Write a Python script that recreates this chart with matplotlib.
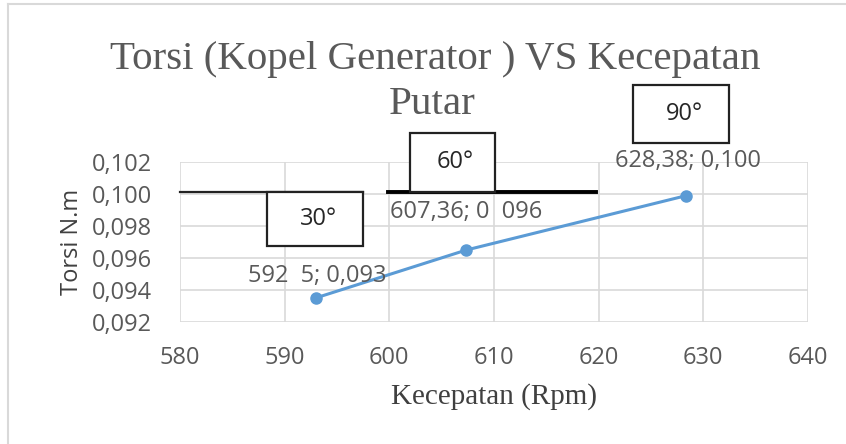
import matplotlib
matplotlib.use("Agg")
import matplotlib.pyplot as plt
from matplotlib.patches import Rectangle
from matplotlib.lines import Line2D

# data
rpm = [592.95, 607.36, 628.38]
torsi = [0.0935, 0.0965, 0.0999]
point_labels = ["592  5; 0,093", "607,36; 0  096", "628,38; 0,100"]
label_offsets = [(2, 22), (0, 38), (2, 35)]   # pixels above each point
x_ticks = [580, 590, 600, 610, 620, 630, 640]
y_ticks = [0.092, 0.094, 0.096, 0.098, 0.100, 0.102]
y_tick_labels = ["0,092", "0,094", "0,096", "0,098", "0,100", "0,102"]
angle_labels = ["30°", "60°", "90°"]

W, H = 846, 444
GREY = "#595959"
BLUE = "#5B9BD5"
SANS = "Open Sans"
SERIF = "Liberation Serif"
FS = 17

fig = plt.figure(figsize=(W / 100, H / 100), dpi=100)
fig.patch.set_facecolor("white")


def fx(px):
    return px / W


def fy(py):
    return 1 - py / H


# chart frame (only the top and left edges show in the crop)
fig.add_artist(Line2D([fx(8), 1], [fy(4), fy(4)], color="#d9d9d9", lw=1.5))
fig.add_artist(Line2D([fx(8), fx(8)], [fy(4), 0], color="#d9d9d9", lw=1.5))

ax = fig.add_axes([fx(180), fy(322), fx(808) - fx(180), fy(162) - fy(322)])
ax.set_xlim(580, 640)
ax.set_ylim(0.092, 0.102)
ax.set_xticks(x_ticks)
ax.set_xticklabels([str(t) for t in x_ticks])
ax.set_yticks(y_ticks)
ax.set_yticklabels(y_tick_labels)
ax.grid(True, color="#d9d9d9", lw=1.2)
ax.set_axisbelow(True)
for s in ax.spines.values():
    s.set_visible(False)
ax.tick_params(length=0, labelsize=FS, labelcolor=GREY)
ax.tick_params(axis="x", pad=17)
ax.tick_params(axis="y", pad=20)
for lab in ax.get_xticklabels() + ax.get_yticklabels():
    lab.set_family(SANS)

ax.plot(rpm, torsi, color=BLUE, lw=2.2, marker="o", markersize=8,
        clip_on=False, zorder=3)

for x, y, txt, (dx, dy) in zip(rpm, torsi, point_labels, label_offsets):
    ax.annotate(txt, (x, y), xytext=(dx, dy), textcoords="offset pixels",
                ha="center", va="center", fontsize=FS, family=SANS,
                color=GREY, annotation_clip=False, zorder=4)

ax.set_ylabel("Torsi N.m", fontsize=FS, family=SANS, color="#404040",
              labelpad=6)
ax.set_xlabel("Kecepatan (Rpm)", fontsize=21, family=SERIF, color="#404040",
              labelpad=10)

fig.text(fx(435), fy(60), "Torsi (Kopel Generator ) VS Kecepatan",
         ha="center", va="center", fontsize=29.5, family=SERIF, color=GREY)
fig.text(fx(432), fy(105), "Putar", ha="center", va="center", fontsize=29.5,
         family=SERIF, color=GREY)

# pasted-on angle boxes and black bars
fig.add_artist(Line2D([fx(180), fx(363)], [fy(192), fy(192)], color="#222222",
                      lw=1.6, zorder=5))
fig.add_artist(Line2D([fx(388), fx(596)], [fy(192), fy(192)], color="black",
                      lw=2.8, zorder=5))
boxes = [(267, 192, 363, 246), (410, 133, 495, 192), (633, 85, 729, 143)]
for (x0, y0, x1, y1), txt in zip(boxes, angle_labels):
    fig.add_artist(Rectangle((fx(x0), fy(y1)), fx(x1) - fx(x0),
                             fy(y0) - fy(y1), transform=fig.transFigure,
                             facecolor="white", edgecolor="#222222", lw=1.6,
                             zorder=6))
    fig.text(fx((x0 + x1) / 2 + 3), fy((y0 + y1) / 2), txt, ha="center",
             va="center", fontsize=FS, family=SANS, color="#262626",
             zorder=7)

fig.savefig("out.png", dpi=100)
